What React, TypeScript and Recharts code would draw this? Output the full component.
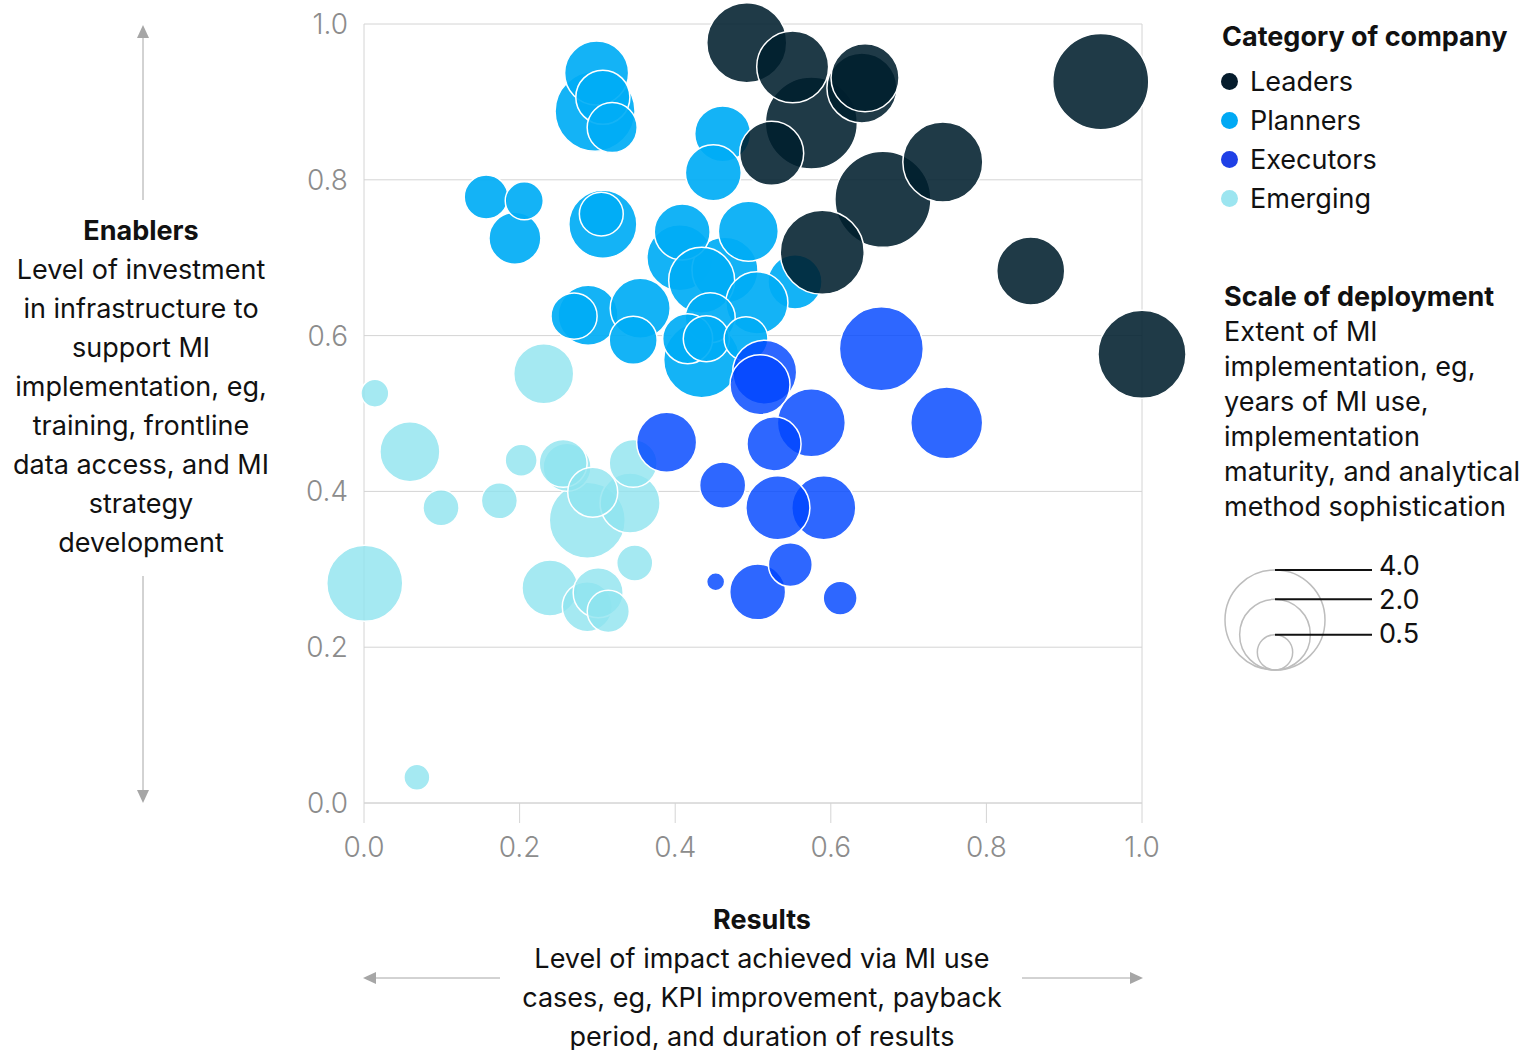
import { ScatterChart, Scatter, XAxis, YAxis, ZAxis, CartesianGrid, ReferenceLine } from 'recharts';

// x = results, y = enablers, z = scale of deployment
const leaders = [
  { x: 0.492, y: 0.976, z: 2.56 },
  { x: 0.575, y: 0.873, z: 3.39 },
  { x: 0.551, y: 0.945, z: 2.07 },
  { x: 0.640, y: 0.918, z: 1.96 },
  { x: 0.644, y: 0.931, z: 1.85 },
  { x: 0.524, y: 0.834, z: 1.64 },
  { x: 0.947, y: 0.926, z: 3.69 },
  { x: 0.667, y: 0.775, z: 3.69 },
  { x: 0.744, y: 0.823, z: 2.56 },
  { x: 0.589, y: 0.707, z: 2.82 },
  { x: 0.857, y: 0.683, z: 1.85 },
  { x: 1.0, y: 0.576, z: 3.1 },
];

const planners = [
  { x: 0.297, y: 0.888, z: 2.56 },
  { x: 0.299, y: 0.937, z: 1.64 },
  { x: 0.307, y: 0.906, z: 1.17 },
  { x: 0.319, y: 0.867, z: 1.0 },
  { x: 0.157, y: 0.778, z: 0.77 },
  { x: 0.194, y: 0.725, z: 1.08 },
  { x: 0.206, y: 0.773, z: 0.58 },
  { x: 0.307, y: 0.743, z: 1.85 },
  { x: 0.305, y: 0.756, z: 0.77 },
  { x: 0.461, y: 0.859, z: 1.25 },
  { x: 0.449, y: 0.809, z: 1.25 },
  { x: 0.406, y: 0.700, z: 1.74 },
  { x: 0.464, y: 0.684, z: 1.74 },
  { x: 0.409, y: 0.733, z: 1.25 },
  { x: 0.494, y: 0.734, z: 1.44 },
  { x: 0.434, y: 0.671, z: 1.74 },
  { x: 0.554, y: 0.669, z: 1.17 },
  { x: 0.505, y: 0.642, z: 1.54 },
  { x: 0.288, y: 0.626, z: 1.44 },
  { x: 0.270, y: 0.625, z: 0.85 },
  { x: 0.355, y: 0.635, z: 1.44 },
  { x: 0.346, y: 0.594, z: 0.92 },
  { x: 0.434, y: 0.569, z: 2.31 },
  { x: 0.445, y: 0.623, z: 1.0 },
  { x: 0.416, y: 0.596, z: 1.0 },
  { x: 0.440, y: 0.596, z: 0.85 },
  { x: 0.491, y: 0.596, z: 0.77 },
];

const executors = [
  { x: 0.665, y: 0.583, z: 2.82 },
  { x: 0.749, y: 0.488, z: 2.07 },
  { x: 0.389, y: 0.463, z: 1.44 },
  { x: 0.515, y: 0.553, z: 1.64 },
  { x: 0.509, y: 0.537, z: 1.44 },
  { x: 0.575, y: 0.488, z: 1.85 },
  { x: 0.527, y: 0.461, z: 1.17 },
  { x: 0.461, y: 0.408, z: 0.85 },
  { x: 0.591, y: 0.379, z: 1.64 },
  { x: 0.532, y: 0.379, z: 1.64 },
  { x: 0.506, y: 0.271, z: 1.25 },
  { x: 0.548, y: 0.306, z: 0.77 },
  { x: 0.452, y: 0.284, z: 0.13 },
  { x: 0.612, y: 0.263, z: 0.46 },
];

const emerging = [
  { x: 0.231, y: 0.551, z: 1.44 },
  { x: 0.014, y: 0.526, z: 0.31 },
  { x: 0.059, y: 0.451, z: 1.44 },
  { x: 0.099, y: 0.379, z: 0.52 },
  { x: 0.174, y: 0.388, z: 0.52 },
  { x: 0.202, y: 0.440, z: 0.41 },
  { x: 0.287, y: 0.363, z: 2.31 },
  { x: 0.261, y: 0.431, z: 0.92 },
  { x: 0.256, y: 0.436, z: 0.92 },
  { x: 0.342, y: 0.385, z: 1.44 },
  { x: 0.346, y: 0.436, z: 0.92 },
  { x: 0.294, y: 0.399, z: 1.0 },
  { x: 0.348, y: 0.308, z: 0.52 },
  { x: 0.239, y: 0.276, z: 1.25 },
  { x: 0.287, y: 0.252, z: 1.0 },
  { x: 0.301, y: 0.270, z: 1.0 },
  { x: 0.314, y: 0.246, z: 0.71 },
  { x: 0.001, y: 0.282, z: 2.31 },
  { x: 0.068, y: 0.033, z: 0.27 },
];

const ticks = [0, 0.2, 0.4, 0.6, 0.8, 1.0];
const categories = [
  { name: 'Leaders', color: '#051c2c' },
  { name: 'Planners', color: '#00a9f4' },
  { name: 'Executors', color: '#1f40e6' },
  { name: 'Emerging', color: '#9ce5f0' },
];
const sizeLegend = [4.0, 2.0, 0.5];
const sizeLabelY = [565, 599, 633];

const enablersLines = ['Level of investment', 'in infrastructure to', 'support MI', 'implementation, eg,', 'training, frontline', 'data access, and MI', 'strategy', 'development'];
const resultsLines = ['Level of impact achieved via MI use', 'cases, eg, KPI improvement, payback', 'period, and duration of results'];
const scaleLines = ['Extent of MI', 'implementation, eg,', 'years of MI use,', 'implementation', 'maturity, and analytical', 'method sophistication'];

const font = 'Inter, Roboto, "Liberation Sans", Arial, sans-serif';
const txt = '#111';
const arrowGray = '#a6a6a6';

const App = () => {
  const tickStyle = { fill: '#8c8c8c', fontSize: 28, fontWeight: 300, fontFamily: font };
  return (
    <div style={{ position: 'absolute', left: 0, top: 0, width: 1524, height: 1050, background: '#fff', fontFamily: font, color: txt }}>
      <ScatterChart width={1524} height={1050} margin={{ top: 24, right: 382, left: 304, bottom: 187 }}>
        <CartesianGrid vertical={false} stroke="#d4d4d4" />
        <XAxis type="number" dataKey="x" domain={[0, 1]} ticks={ticks} tickFormatter={(v) => v.toFixed(1)}
          height={60} tick={tickStyle} tickSize={20} tickMargin={14} stroke="#d4d4d4" axisLine={{ stroke: '#d4d4d4' }} />
        <YAxis type="number" dataKey="y" domain={[0, 1]} ticks={ticks} tickFormatter={(v) => v.toFixed(1)}
          width={60} tick={tickStyle} tickLine={false} axisLine={false} tickMargin={10} />
        <ZAxis type="number" dataKey="z" domain={[0, 4]} range={[0, 7854]} />
        <ReferenceLine x={0} stroke="#d4d4d4" />
        <ReferenceLine x={1} stroke="#d4d4d4" />
        <Scatter data={emerging} fill="#8ee4ef" fillOpacity={0.8} stroke="#fff" strokeWidth={1.5} isAnimationActive={false} />
        <Scatter data={planners} fill="#00acf5" fillOpacity={0.92} stroke="#fff" strokeWidth={1.5} isAnimationActive={false} />
        <Scatter data={executors} fill="#0046ff" fillOpacity={0.82} stroke="#fff" strokeWidth={1.5} isAnimationActive={false} />
        <Scatter data={leaders} fill="#001f2e" fillOpacity={0.88} stroke="#fff" strokeWidth={1.5} isAnimationActive={false} />
      </ScatterChart>

      <svg width={1524} height={1050} style={{ position: 'absolute', left: 0, top: 0, pointerEvents: 'none' }}>
        {/* vertical arrow */}
        <line x1={143} y1={36} x2={143} y2={200} stroke={arrowGray} strokeWidth={1} />
        <polygon points="137,38 149,38 143,25" fill={arrowGray} />
        <line x1={143} y1={576} x2={143} y2={792} stroke={arrowGray} strokeWidth={1} />
        <polygon points="137,790 149,790 143,803" fill={arrowGray} />
        {/* horizontal arrows */}
        <line x1={374} y1={978} x2={500} y2={978} stroke={arrowGray} strokeWidth={1} />
        <polygon points="376,972 376,984 363,978" fill={arrowGray} />
        <line x1={1022} y1={978} x2={1132} y2={978} stroke={arrowGray} strokeWidth={1} />
        <polygon points="1130,972 1130,984 1143,978" fill={arrowGray} />
        {/* size legend */}
        {sizeLegend.map((v) => {
          const r = 25 * Math.sqrt(v);
          return <circle key={'c' + v} cx={1275} cy={670 - r} r={r} fill="none" stroke="#bdbdbd" strokeWidth={1.5} />;
        })}
        {sizeLegend.map((v) => {
          const r = 25 * Math.sqrt(v);
          return <line key={'l' + v} x1={1275} y1={670 - 2 * r} x2={1372} y2={670 - 2 * r} stroke="#111" strokeWidth={2} />;
        })}
        {sizeLegend.map((v, i) => (
          <text key={'t' + v} x={1379} y={sizeLabelY[i]} dy="0.36em" fontSize={27} fill="#111" fontFamily={font}>
            {v.toFixed(1)}
          </text>
        ))}
      </svg>

      <div style={{ position: 'absolute', left: 0, top: 211, width: 282, textAlign: 'center', fontSize: 27, lineHeight: '39px', whiteSpace: 'nowrap' }}>
        <div style={{ fontWeight: 700 }}>Enablers</div>
        {enablersLines.map((l) => <div key={l}>{l}</div>)}
      </div>

      <div style={{ position: 'absolute', left: 462, top: 900, width: 600, textAlign: 'center', fontSize: 27, lineHeight: '39px', whiteSpace: 'nowrap' }}>
        <div style={{ fontWeight: 700 }}>Results</div>
        {resultsLines.map((l) => <div key={l}>{l}</div>)}
      </div>

      <div style={{ position: 'absolute', left: 1222, top: 17, fontSize: 27, lineHeight: '39px', whiteSpace: 'nowrap' }}>
        <div style={{ fontWeight: 700 }}>Category of company</div>
      </div>
      <div style={{ position: 'absolute', left: 1221, top: 62, fontSize: 27, lineHeight: '39px', whiteSpace: 'nowrap' }}>
        {categories.map((c) => (
          <div key={c.name} style={{ display: 'flex', alignItems: 'center' }}>
            <span style={{ display: 'inline-block', width: 17, height: 17, borderRadius: '50%', background: c.color, marginRight: 12 }} />
            <span>{c.name}</span>
          </div>
        ))}
      </div>

      <div style={{ position: 'absolute', left: 1224, top: 279, fontSize: 27, lineHeight: '35px', whiteSpace: 'nowrap' }}>
        <div style={{ fontWeight: 700 }}>Scale of deployment</div>
        {scaleLines.map((l) => <div key={l}>{l}</div>)}
      </div>
    </div>
  );
};

export default App;
